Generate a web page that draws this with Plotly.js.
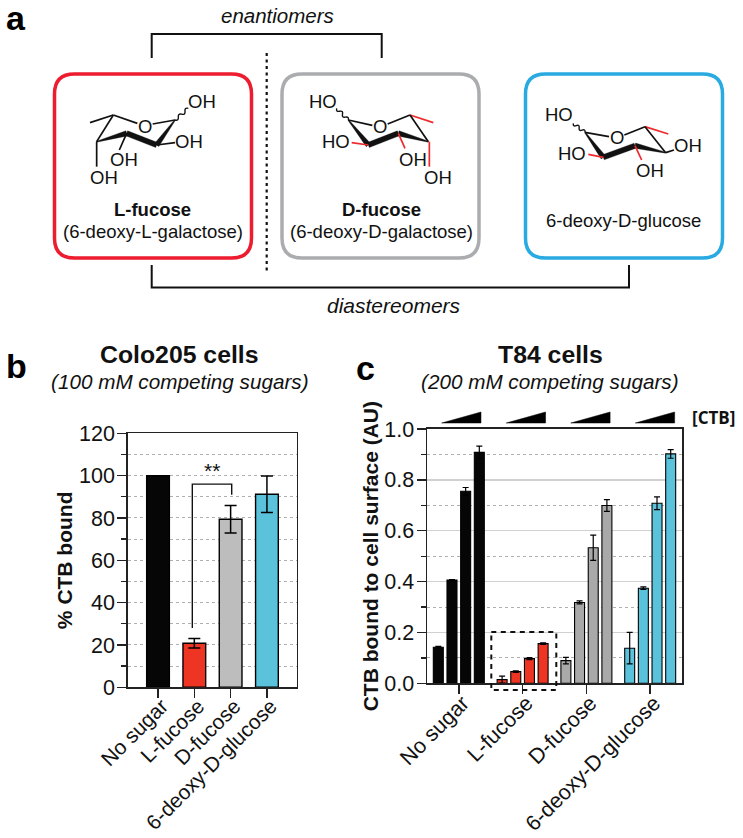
<!DOCTYPE html>
<html>
<head>
<meta charset="utf-8">
<script src="https://cdn.plot.ly/plotly-3.0.1.min.js"></script>
<style>html,body{margin:0;padding:0;background:#fff}</style>
</head>
<body>
<div id="chart" style="width:743px;height:838px"></div>
<script>
// ---- Panel b data ----
const categories = ['No sugar', 'L-fucose', 'D-fucose', '6-deoxy-D-glucose'];
const colo205Values = [100, 20.8, 79.4, 91.2];
const colo205Errors = [0, 2.2, 6.5, 8.6];
// ---- Panel c data (four rising CTB doses per sugar) ----
const t84Dose1 = [0.142, 0.0145, 0.089, 0.138];
const t84Dose2 = [0.406, 0.046, 0.318, 0.374];
const t84Dose3 = [0.755, 0.097, 0.533, 0.708];
const t84Dose4 = [0.908, 0.156, 0.699, 0.902];
const t84Err1 = [0.003, 0.014, 0.013, 0.062];
const t84Err2 = [0.002, 0.003, 0.006, 0.005];
const t84Err3 = [0.015, 0.004, 0.05, 0.025];
const t84Err4 = [0.025, 0.003, 0.023, 0.017];
const colorsB = ['#060606', '#EE3524', '#BDBDBD', '#5BC2DC'];
const colorsC = ['#060606', '#EE3524', '#A9A9A9', '#5BC2DC'];

const W = 743, H = 838;
const FONT = '"Liberation Sans", Arial, sans-serif';
const px = x => x / W, py = y => 1 - y / H;
const P = (x, y) => px(x) + ',' + py(y);
const shapes = [], annotations = [];

function pathShape(d, color, width, fill, dash) {
  shapes.push({type: 'path', xref: 'paper', yref: 'paper', path: d,
    line: {color: color, width: width, dash: dash || 'solid'},
    fillcolor: fill || 'rgba(0,0,0,0)', layer: 'above'});
}
function poly(pts, closed) {
  return 'M' + pts.map(p => P(p[0], p[1])).join(' L') + (closed ? ' Z' : '');
}
function label(text, x, y, size, opts) {
  opts = opts || {};
  annotations.push({xref: 'paper', yref: 'paper', x: px(x), y: py(y), text: text, showarrow: false,
    xanchor: opts.anchor || 'center', yanchor: 'middle', align: 'center',
    font: {family: opts.family || FONT, size: size, color: opts.color || '#111'}});
}
function roundBox(x0, y0, x1, y1, r, color) {
  const d = 'M' + P(x0 + r, y0) + ' L' + P(x1 - r, y0) + ' Q' + P(x1, y0) + ' ' + P(x1, y0 + r) +
    ' L' + P(x1, y1 - r) + ' Q' + P(x1, y1) + ' ' + P(x1 - r, y1) +
    ' L' + P(x0 + r, y1) + ' Q' + P(x0, y1) + ' ' + P(x0, y1 - r) +
    ' L' + P(x0, y0 + r) + ' Q' + P(x0, y0) + ' ' + P(x0 + r, y0) + ' Z';
  pathShape(d, color, 3.5);
}
function wavy(x0, y0, x1, y1, n) {
  const dx = (x1 - x0) / n, dy = (y1 - y0) / n, len = Math.hypot(dx, dy);
  const nx = -dy / len * 3.2, ny = dx / len * 3.2;
  let d = 'M' + P(x0, y0);
  for (let i = 0; i < n; i++) {
    const s = i % 2 ? -1 : 1;
    d += ' Q' + P(x0 + dx * (i + .5) + nx * s, y0 + dy * (i + .5) + ny * s) + ' ' + P(x0 + dx * (i + 1), y0 + dy * (i + 1));
  }
  pathShape(d, '#111', 1.4);
}
function bond(a, b, color, w) { pathShape(poly([[a[0] / 3, a[1] / 3], [b[0] / 3, b[1] / 3]]), color || '#111', w || 1.7); }
function taper(a, wa, b, wb) {
  const dx = b[0] - a[0], dy = b[1] - a[1], l = Math.hypot(dx, dy), nx = -dy / l, ny = dx / l;
  const pts = [[a[0] + nx * wa, a[1] + ny * wa], [b[0] + nx * wb, b[1] + ny * wb], [b[0] - nx * wb, b[1] - ny * wb], [a[0] - nx * wa, a[1] - ny * wa]];
  pathShape(poly(pts.map(p => [p[0] / 3, p[1] / 3]), true), '#111', 0.3, '#111');
}
const RED = '#EE2A2E';

// ---- panel a: boxes and brackets ----
roundBox(54.5, 74, 251.5, 258, 20, '#ED1C2E');
roundBox(282, 74, 479, 258, 20, '#ABACAF');
roundBox(525.5, 74, 722.5, 258, 20, '#29ABE2');
pathShape(poly([[151.7, 58], [151.7, 34], [381.7, 34], [381.7, 58]]), '#111', 2);
pathShape(poly([[151.7, 265], [151.7, 287.5], [629, 287.5], [629, 265]]), '#111', 2);
pathShape(poly([[266.7, 53], [266.7, 274]]), '#111', 2.2, null, '3px,3.5px');
label('<i>enantiomers</i>', 277.5, 15.5, 20.5);
label('<i>diastereomers</i>', 394, 306, 21);
label('<b>a</b>', 15.5, 17.5, 34, {color: '#000'});
label('<b>b</b>', 16, 366, 34, {color: '#000'});
label('<b>c</b>', 365, 368, 34, {color: '#000'});

// L-fucose
bond([270, 368], [340, 345]); bond([340, 345], [290, 425]); bond([340, 345], [412, 370]); bond([458, 372], [525, 360]);
taper([525, 360], 1.5, [470, 435], 8); taper([470, 435], 8, [380, 400], 8); taper([380, 400], 8, [290, 425], 1.5);
bond([470, 435], [525, 428]); bond([380, 400], [358, 450]); bond([290, 425], [290, 500]);
wavy(525 / 3, 360 / 3, 565 / 3, 325 / 3, 4);
label('OH', 202, 102, 18.5); label('OH', 189, 141, 18.5); label('OH', 124, 159, 18.5); label('OH', 103.5, 177, 18.5);
label('<b>L-fucose</b>', 152.7, 209, 18.5); label('(6-deoxy-L-galactose)', 153, 231.7, 18.5);

// D-fucose
bond([1045, 360], [1117, 376]); bond([1163, 372], [1230, 345]); bond([1230, 345], [1300, 368], RED); bond([1230, 345], [1285, 425]);
taper([1045, 360], 1.5, [1105, 435], 8); taper([1105, 435], 8, [1195, 400], 8); taper([1195, 400], 8, [1285, 425], 1.5);
bond([1105, 435], [1055, 428], RED); bond([1195, 400], [1215, 445], RED); bond([1288, 425], [1288, 500], RED);
wavy(1010 / 3, 325 / 3, 1045 / 3, 360 / 3, 4);
label('HO', 323, 102, 18.5); label('HO', 336, 141, 18.5); label('OH', 413, 159, 18.5); label('OH', 437.5, 177, 18.5);
label('<b>D-fucose</b>', 381, 209, 18.5); label('(6-deoxy-D-galactose)', 381, 231.7, 18.5);

// 6-deoxy-D-glucose
const o = 1200;
bond([o + 555, 397], [o + 627, 410]); bond([o + 673, 405], [o + 735, 380]); bond([o + 735, 380], [o + 805, 402], RED); bond([o + 735, 380], [o + 797, 458]);
taper([o + 555, 397], 1.5, [o + 610, 472], 8); taper([o + 610, 472], 8, [o + 705, 437], 8); taper([o + 705, 437], 8, [o + 797, 458], 1.5);
bond([o + 610, 472], [o + 565, 463], RED); bond([o + 705, 437], [o + 725, 480], RED); bond([o + 797, 458], [o + 822, 450]);
wavy((o + 520) / 3, 370 / 3, (o + 555) / 3, 397 / 3, 4);
label('HO', 559, 114, 18.5); label('HO', 572, 153.5, 18.5); label('OH', 687.5, 145.5, 18.5); label('OH', 650, 170.5, 18.5);
label('6-deoxy-D-glucose', 623, 220.5, 18.5);
// ring oxygens
label('O', 145, 126, 18.5); label('O', 380, 126, 18.5); label('O', 616.5, 137.5, 18.5);

// ---- panel titles ----
label('<b>Colo205 cells</b>', 179, 354, 24.8);
label('<i>(100 mM competing sugars)</i>', 180, 381, 20.7);
label('<b>T84 cells</b>', 550, 354, 24.8);
label('<i>(200 mM competing sugars)</i>', 550, 381, 20.7);

// significance bracket on panel b, in its own data units
shapes.push({type: 'path', xref: 'x', yref: 'y', layer: 'above',
  path: 'M0.945,28 L0.945,96 L2.03,96 L2.03,91', line: {color: '#111', width: 1.4}});
annotations.push({xref: 'x', yref: 'y', x: 1.48, y: 102.5, text: '**', showarrow: false,
  font: {family: FONT, size: 21, color: '#111'}, yanchor: 'middle'});

// dose wedges and bracket box on panel c
[0, 1, 2, 3].forEach(i => {
  const x0 = 441.7 + i * 64.55;
  pathShape(poly([[x0, 423], [x0 + 39.3, 423], [x0 + 39.3, 412]], true), '#000', 0.5, '#000');
});
label('<b>[CTB]</b>', 713.5, 417, 17, {family: '"Open Sans", sans-serif'});
pathShape(poly([[491.3, 632], [556.3, 632], [556.3, 690], [491.3, 690]], true), '#111', 2, null, '5px,4.5px');

function errY(arr, thickness, width) {
  return {type: 'data', array: arr, visible: true, color: '#000', thickness: thickness, width: width};
}
const traces = [{
  type: 'bar', x: categories, y: colo205Values, xaxis: 'x', yaxis: 'y', name: 'Colo205',
  marker: {color: colorsB, line: {color: '#000', width: 1.4}},
  error_y: errY(colo205Errors, 1.5, 6), showlegend: false
}];
[[t84Dose1, t84Err1], [t84Dose2, t84Err2], [t84Dose3, t84Err3], [t84Dose4, t84Err4]].forEach((d, i) => {
  traces.push({type: 'bar', x: categories, y: d[0], xaxis: 'x2', yaxis: 'y2', name: 'Dose ' + (i + 1),
    marker: {color: colorsC, line: {color: '#000', width: 1.1}},
    error_y: errY(d[1], 1.2, 3), showlegend: false});
});

function yAxis(range, dtick, minor, title, anchor, dom, fmt, majorGrid, lw) {
  return {
    domain: dom, range: range, dtick: dtick, anchor: anchor, showline: true, mirror: true, linecolor: '#222', linewidth: lw,
    ticks: 'outside', ticklen: 9, tickwidth: 1.5, tickcolor: '#222', tickformat: fmt, ticklabelstandoff: -2,
    tickfont: {family: FONT, size: 21.5, color: '#111'},
    showgrid: true, gridcolor: majorGrid.color, griddash: majorGrid.dash, gridwidth: majorGrid.width, zeroline: false,
    minor: {dtick: minor, ticks: 'outside', ticklen: 5, tickwidth: 1.3, tickcolor: '#222', showgrid: true, gridcolor: '#b0b0b0', griddash: 'dot', gridwidth: 1},
    title: {text: '<b>' + title + '</b>', standoff: 0, font: {family: FONT, size: 21, color: '#111'}}
  };
}
function xAxis(range, anchor, dom, lw, fontSize) {
  return {
    domain: dom, range: range, anchor: anchor, type: 'category', showline: true, mirror: true, linecolor: '#222', linewidth: lw,
    ticks: 'outside', ticklen: 9, tickwidth: 1.5, tickcolor: '#222', tickangle: -45,
    ticklabelstandoff: -12, ticklabelshift: 4,
    tickfont: {family: FONT, size: fontSize, color: '#111'}, showgrid: false, zeroline: false
  };
}
const layout = {
  width: W, height: H, autosize: false, margin: {l: 0, r: 0, t: 0, b: 0, pad: 0},
  paper_bgcolor: '#fff', plot_bgcolor: '#fff', showlegend: false,
  barmode: 'group',
  xaxis: xAxis([-0.835, 3.82], 'y', [px(127.7), px(296.7)], 1.5, 20.8),
  yaxis: yAxis([0, 120], 20, 10, '% CTB bound', 'x', [py(687.3), py(433.3)], 'd', {color: '#b0b0b0', dash: 'dot', width: 1}, 1.5),
  xaxis2: xAxis([-0.494, 3.494], 'y2', [px(427.3), px(681.7)], 1.8, 21.5),
  yaxis2: yAxis([0, 1], 0.2, 0.1, 'CTB bound to cell surface (AU)', 'x2', [py(683.3), py(429)], '.1f', {color: '#d0d0d0', dash: 'solid', width: 1.5}, 1.8),
  bargap: 0.143, bargroupgap: 0.27,
  shapes: shapes, annotations: annotations
};
Plotly.newPlot('chart', traces, layout, {displayModeBar: false, staticPlot: true});
</script>
</body>
</html>
